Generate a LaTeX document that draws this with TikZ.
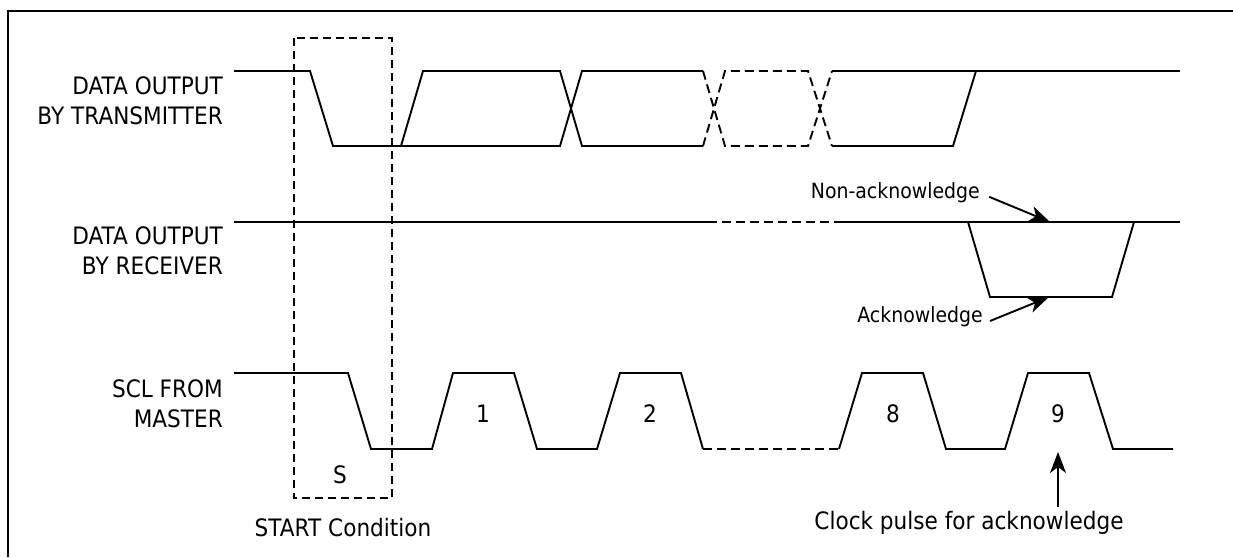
\documentclass[tikz,border=0pt]{standalone}
\usepackage{fontspec}
\setmainfont{DejaVu Sans}[FakeStretch=0.9]
\usepackage{tikz}
\usetikzlibrary{arrows.meta, positioning}
\tikzstyle{wave} = [line width=1.9pt, line join=miter]
\tikzstyle{dwave} = [wave, dash pattern=on 9pt off 5pt]
\tikzstyle{frame} = [line width=2.4pt]
\tikzstyle{sigtext} = [anchor=east, align=right, inner sep=0pt, font=\fontsize{24}{30}\selectfont]
\tikzstyle{num} = [inner sep=0pt, font=\fontsize{24}{30}\selectfont]
\tikzstyle{note} = [inner sep=0pt, font=\fontsize{21}{26}\selectfont]
\tikzstyle{arrow} = [line width=1.9pt, -{Stealth[length=21pt, width=16pt, inset=6pt]}]

\begin{document}
\begin{tikzpicture}[x=1pt, y=-1pt]

    \useasboundingbox (0, 0) rectangle (1233, 557);
    \draw [frame] (8, 557) -- (8, 11) -- (1233, 11);

    % signal names
    \node (tx) [sigtext] at (223, 101) {DATA OUTPUT\\BY TRANSMITTER};
    \node (rx) [sigtext] at (223, 251) {DATA OUTPUT\\BY RECEIVER};
    \node (scl) [sigtext] at (223, 404) {SCL FROM\\MASTER};

    % start condition
    \draw [wave, line width=1.7pt, dash pattern=on 8pt off 5pt] (294, 38) rectangle (392, 498);
    \node (s) [num] at (340, 475) {S};
    \node (start) [num] at (343, 528) {START Condition};

    % transmitter
    \draw [wave] (234, 71) -- (310, 71) -- (333, 146) -- (560, 146) -- (582, 71) -- (703, 71);
    \draw [wave] (401, 146) -- (423, 71) -- (560, 71) -- (582, 146) -- (703, 146);
    \draw [dwave] (703, 71) -- (725, 146) -- (808, 146) -- (832, 71);
    \draw [dwave] (703, 146) -- (725, 71) -- (808, 71) -- (832, 146);
    \draw [wave] (832, 71) -- (1180, 71);
    \draw [wave] (832, 146) -- (953, 146) -- (976, 71);

    % receiver
    \draw [wave] (234, 222) -- (708, 222);
    \draw [dwave] (708, 222) -- (837, 222);
    \draw [wave] (837, 222) -- (1180, 222);
    \draw [wave] (968, 222) -- (990, 297) -- (1112, 297) -- (1134, 222);

    \node (nack) [note, anchor=east] at (980, 193) {Non-acknowledge};
    \node (ack) [note, anchor=east] at (983, 317) {Acknowledge};
    \coordinate (nackpt) at (1050, 222);
    \coordinate (ackpt) at (1049, 297);
    \draw [arrow, shorten <=10pt] (nack.east) -- (nackpt);
    \draw [arrow] ([xshift=7pt, yshift=-4pt]ack.east) -- (ackpt);

    % clock
    \draw [wave] (234, 373) -- (348, 373) -- (371, 449) -- (432, 449) -- (453, 373) -- (514, 373)
        -- (537, 449) -- (597, 449) -- (620, 373) -- (681, 373) -- (703, 449);
    \draw [dwave] (703, 449) -- (839, 449);
    \draw [wave] (839, 449) -- (862, 373) -- (923, 373) -- (946, 449) -- (1005, 449) -- (1028, 373)
        -- (1089, 373) -- (1113, 449) -- (1173, 449);

    \node (p1) [num] at (483, 414) {1};
    \node (p2) [num] at (650, 414) {2};
    \node (p8) [num] at (893, 414) {8};
    \node (p9) [num] at (1058, 414) {9};

    \node (clk) [num] at (969, 523) {Clock pulse for acknowledge};
    \coordinate (clkpt) at (1058, 452);
    \draw [arrow, shorten <=4pt] (clk.north -| clkpt) -- (clkpt);

\end{tikzpicture}
\end{document}
